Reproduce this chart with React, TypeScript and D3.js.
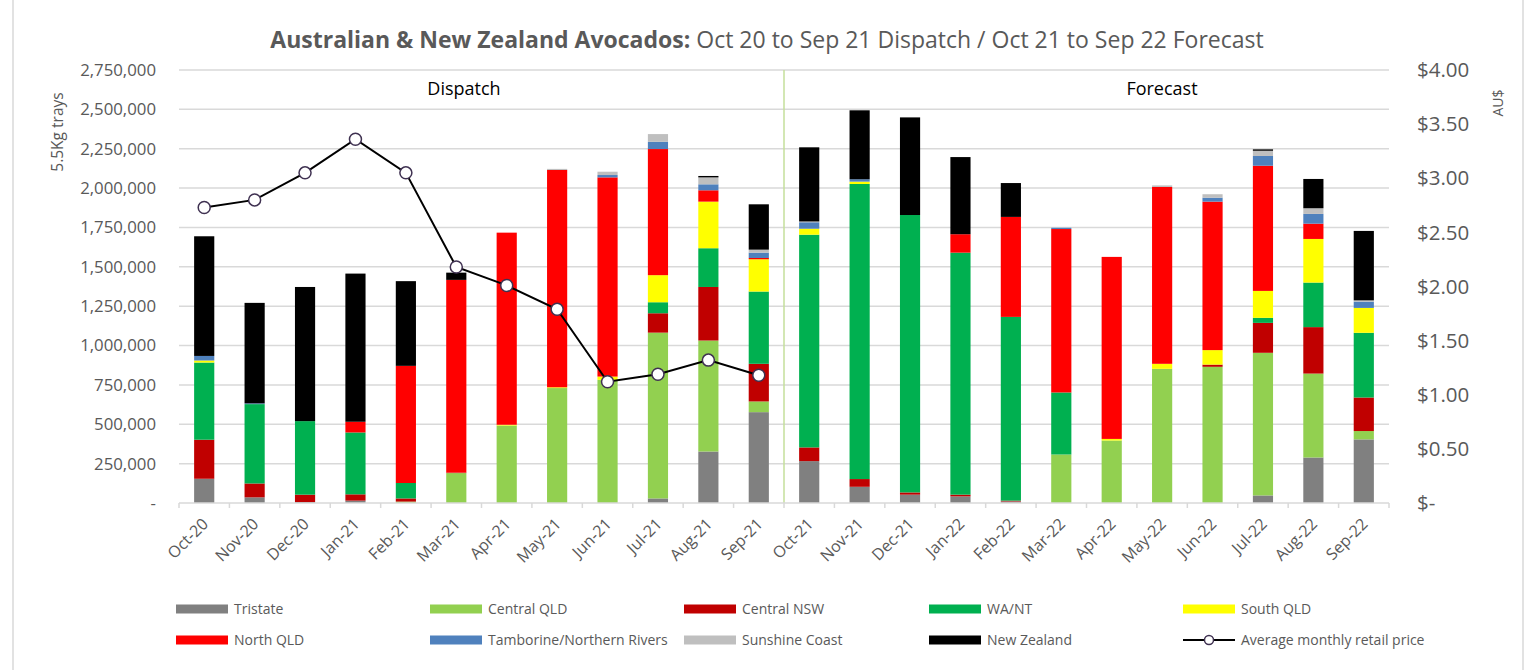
import React from 'react';
import * as d3 from 'd3';

const months = [
  'Oct-20', 'Nov-20', 'Dec-20', 'Jan-21', 'Feb-21', 'Mar-21', 'Apr-21', 'May-21', 'Jun-21', 'Jul-21', 'Aug-21', 'Sep-21',
  'Oct-21', 'Nov-21', 'Dec-21', 'Jan-22', 'Feb-22', 'Mar-22', 'Apr-22', 'May-22', 'Jun-22', 'Jul-22', 'Aug-22', 'Sep-22',
];

// trays per region, bottom of the stack first
const tristate = [154000, 36000, 6000, 15000, 0, 0, 0, 0, 0, 29000, 327000, 577000, 266000, 103000, 53000, 42000, 10000, 0, 0, 0, 0, 48000, 289000, 404000];
const centralQld = [0, 0, 0, 0, 9000, 190000, 492000, 730000, 782000, 1053000, 705000, 68000, 0, 0, 0, 0, 0, 308000, 397000, 852000, 865000, 906000, 533000, 53000];
const centralNsw = [248000, 88000, 47000, 40000, 20000, 3000, 0, 0, 0, 123000, 340000, 239000, 87000, 49000, 14000, 11000, 5000, 0, 0, 0, 14000, 190000, 295000, 213000];
const waNt = [490000, 504000, 467000, 393000, 98000, 0, 0, 0, 0, 70000, 246000, 459000, 1351000, 1874000, 1762000, 1537000, 1167000, 394000, 0, 0, 0, 32000, 283000, 411000];
const southQld = [13000, 0, 0, 0, 0, 0, 5000, 5000, 21000, 172000, 296000, 205000, 38000, 15000, 0, 0, 0, 0, 10000, 32000, 92000, 171000, 277000, 158000];
const northQld = [0, 0, 0, 68000, 744000, 1224000, 1220000, 1380000, 1265000, 801000, 72000, 8000, 0, 0, 0, 117000, 635000, 1038000, 1156000, 1123000, 943000, 795000, 97000, 0];
const tamborine = [29000, 5000, 0, 0, 0, 0, 0, 0, 15000, 46000, 38000, 34000, 41000, 15000, 0, 0, 0, 8000, 0, 0, 25000, 62000, 62000, 40000];
const sunshineCoast = [0, 0, 0, 0, 0, 0, 0, 7000, 21000, 49000, 44000, 19000, 5000, 0, 0, 0, 0, 0, 0, 10000, 22000, 33000, 36000, 8000];
const newZealand = [760000, 638000, 852000, 941000, 538000, 46000, 0, 0, 0, 0, 9000, 288000, 471000, 438000, 620000, 490000, 215000, 0, 0, 0, 0, 9000, 186000, 441000];

// average monthly retail price, dispatch months only
const price = [2.73, 2.8, 3.05, 3.36, 3.05, 2.18, 2.01, 1.79, 1.12, 1.19, 1.32, 1.18];

const leftTicks = d3.range(0, 2750001, 250000);
const rightTicks = d3.range(0, 4.001, 0.5);

const series = [
  { key: 'Tristate', values: tristate, color: '#808080' },
  { key: 'Central QLD', values: centralQld, color: '#92d050' },
  { key: 'Central NSW', values: centralNsw, color: '#c00000' },
  { key: 'WA/NT', values: waNt, color: '#00b050' },
  { key: 'South QLD', values: southQld, color: '#ffff00' },
  { key: 'North QLD', values: northQld, color: '#ff0000' },
  { key: 'Tamborine/Northern Rivers', values: tamborine, color: '#4f81bd' },
  { key: 'Sunshine Coast', values: sunshineCoast, color: '#bfbfbf' },
  { key: 'New Zealand', values: newZealand, color: '#000000' },
];

const W = 1532;
const H = 670;
const FONT = '"Open Sans", sans-serif';
const TXT = '#595959';
const GRID = '#d9d9d9';

export default function App() {
  const left = 179, right = 1389, top = 70, bottom = 503;

  const x = d3.scaleBand<string>().domain(months).range([left, right]).paddingInner(0.6).paddingOuter(0.3);
  const step = x.step();
  const y = d3.scaleLinear().domain([0, 2750000]).range([bottom, top]);
  const yR = d3.scaleLinear().domain([0, 4]).range([bottom, top]);

  const table = months.map((m, i) => {
    const row: any = { month: m };
    series.forEach(s => { row[s.key] = s.values[i]; });
    return row;
  });
  const stacked = d3.stack().keys(series.map(s => s.key))(table);

  const cx = (m: string) => (x(m) as number) + x.bandwidth() / 2;
  const line = d3.line<number>()
    .x((_, i) => cx(months[i]))
    .y(d => yR(d));

  const fmtL = d3.format(',');
  const fmtR = (v: number) => (v === 0 ? '$-' : '$' + v.toFixed(2));

  const divider = left + step * 12;
  const legendCols = [176, 430, 684, 929, 1183];
  const legendRows = [609, 640];

  return (
    <div style={{ position: 'fixed', left: 0, top: 0 }}>
      <svg width={W} height={H} style={{ display: 'block', background: '#fff' }} fontFamily={FONT}>
        <line x1={13} x2={13} y1={0} y2={H} stroke={GRID} strokeWidth={1.5} />
        <line x1={1523} x2={1523} y1={0} y2={H} stroke={GRID} strokeWidth={1.5} />

        <text x={767} y={48} textAnchor="middle" fontSize={23} fill={TXT}>
          <tspan fontWeight="bold">Australian &amp; New Zealand Avocados:</tspan>
          <tspan> Oct 20 to Sep 21 Dispatch / Oct 21 to Sep 22 Forecast</tspan>
        </text>

        {leftTicks.map(t => (
          <g key={'g' + t}>
            {t > 0 && <line x1={left} x2={right} y1={y(t)} y2={y(t)} stroke={GRID} strokeWidth={1.5} />}
            <text x={156} y={y(t)} dy="0.35em" textAnchor="end" fontSize={16.8} fill={TXT}>{t === 0 ? '-' : fmtL(t)}</text>
          </g>
        ))}
        {rightTicks.map(t => (
          <text key={'r' + t} x={1417} y={yR(t)} dy="0.35em" fontSize={20.5} fill={TXT}>{fmtR(t)}</text>
        ))}

        <text transform={`translate(63,132) rotate(-90)`} textAnchor="middle" fontSize={15.5} fill={TXT}>5.5Kg trays</text>
        <text transform={`translate(1503,103) rotate(-90)`} textAnchor="middle" fontSize={14} fill={TXT}>AU$</text>

        <line x1={divider} x2={divider} y1={top} y2={bottom} stroke="#c4df9b" strokeWidth={1.5} />
        <text x={464} y={95} textAnchor="middle" fontSize={18} fill="#000">Dispatch</text>
        <text x={1162} y={95} textAnchor="middle" fontSize={18} fill="#000">Forecast</text>

        {stacked.map((layer, li) => (
          <g key={layer.key} fill={series[li].color}>
            {layer.map((d, i) => (
              d[1] - d[0] > 0 ? (
                <rect key={i} x={x(months[i])} width={x.bandwidth()} y={y(d[1])} height={y(d[0]) - y(d[1])} />
              ) : null
            ))}
          </g>
        ))}

        <line x1={left} x2={right} y1={bottom} y2={bottom} stroke={GRID} strokeWidth={1.5} />
        {d3.range(months.length + 1).map(i => (
          <line key={'t' + i} x1={left + i * step} x2={left + i * step} y1={bottom} y2={bottom + 5} stroke={GRID} strokeWidth={1.5} />
        ))}
        {months.map(m => (
          <text key={m} transform={`translate(${cx(m) + 1},${521}) rotate(-45)`} dy="0.35em" textAnchor="end" fontSize={16} fill={TXT}>{m}</text>
        ))}

        <path d={line(price) || ''} fill="none" stroke="#000" strokeWidth={2} />
        {price.map((p, i) => (
          <circle key={'p' + i} cx={cx(months[i])} cy={yR(p)} r={6} fill="#fff" stroke="#3f3151" strokeWidth={1.5} />
        ))}

        {series.map((s, i) => {
          const lx = legendCols[i % 5];
          const ly = legendRows[Math.floor(i / 5)];
          return (
            <g key={'l' + s.key}>
              <rect x={lx} y={ly - 4.5} width={52} height={9} fill={s.color} />
              <text x={lx + 58} y={ly} dy="0.35em" fontSize={14} fill={TXT}>{s.key}</text>
            </g>
          );
        })}
        <g>
          <line x1={legendCols[4]} x2={legendCols[4] + 52} y1={legendRows[1]} y2={legendRows[1]} stroke="#000" strokeWidth={2} />
          <circle cx={legendCols[4] + 26} cy={legendRows[1]} r={4.5} fill="#fff" stroke="#3f3151" strokeWidth={1.5} />
          <text x={legendCols[4] + 58} y={legendRows[1]} dy="0.35em" fontSize={14} fill={TXT}>Average monthly retail price</text>
        </g>
      </svg>
    </div>
  );
}
